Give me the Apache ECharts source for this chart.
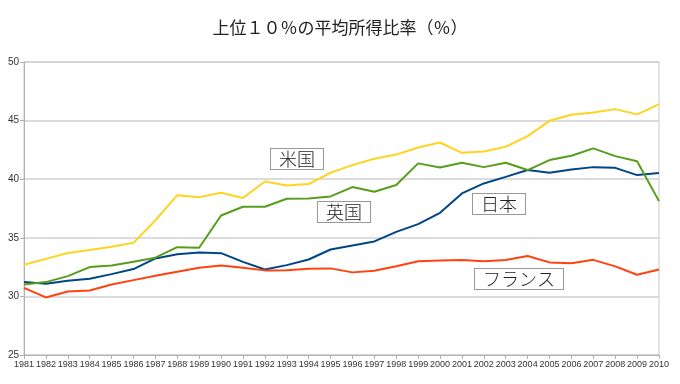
<!DOCTYPE html>
<html><head><meta charset="utf-8">
<script src="https://cdn.jsdelivr.net/npm/echarts@6/dist/echarts.min.js"></script>
<style>html,body{margin:0;padding:0;background:#fff}#c{width:680px;height:384px}</style>
</head><body><div id="c"></div>
<script>
const years = ['1981','1982','1983','1984','1985','1986','1987','1988','1989','1990','1991','1992','1993','1994','1995','1996','1997','1998','1999','2000','2001','2002','2003','2004','2005','2006','2007','2008','2009','2010'];
const usa = [32.7,33.2,33.7,33.95,34.23,34.57,36.5,38.64,38.47,38.84,38.39,39.81,39.47,39.58,40.55,41.2,41.74,42.1,42.71,43.13,42.25,42.37,42.77,43.68,44.98,45.5,45.7,45.98,45.53,46.38];
const uk = [31.02,31.22,31.73,32.5,32.64,32.95,33.3,34.2,34.15,36.9,37.65,37.65,38.33,38.36,38.53,39.33,38.93,39.5,41.35,41.0,41.4,41.03,41.4,40.78,41.63,42.0,42.63,41.97,41.54,38.13];
const japan = [31.22,31.08,31.33,31.5,31.9,32.33,33.24,33.6,33.75,33.69,32.95,32.3,32.67,33.15,34.0,34.35,34.69,35.51,36.17,37.13,38.79,39.64,40.2,40.78,40.55,40.83,41.03,40.97,40.35,40.52];
const france = [30.73,29.91,30.42,30.51,31.02,31.39,31.76,32.1,32.44,32.64,32.44,32.22,32.24,32.36,32.39,32.05,32.18,32.58,33.0,33.07,33.1,33.0,33.1,33.44,32.9,32.82,33.12,32.56,31.85,32.3];
const seriesNames = ['日本','フランス','米国','英国'];
const titleText = '上位１０％の平均所得比率（％）';

const chart = echarts.init(document.getElementById('c'), null, {renderer:'canvas'});
const mk = (name, data, color) => ({
  name, type:'line', data, symbol:'none', smooth:false,
  lineStyle:{color, width:2}, itemStyle:{color}, z: 3
});
const label = (text, x, y) => ({
  type:'text', left:x, top:y, z:10,
  style:{text, font:'300 18px "Noto Sans CJK JP"', fill:'#222',
    backgroundColor:'#fff', borderColor:'#999', borderWidth:1,
    padding:[1,8,1,8]}
});
chart.setOption({
  animation:false,
  title:{text:titleText, left:'center', top:14,
    textStyle:{fontSize:17, fontWeight:'normal', color:'#222', fontFamily:'"Noto Sans CJK JP"'}},
  grid:{left:24, right:21, top:62, bottom:29, show:true, borderColor:'#c8c8c8', borderWidth:1},
  xAxis:{type:'category', data:years, boundaryGap:false,
    axisLine:{lineStyle:{color:'#b0b0b0'}},
    axisTick:{show:true, length:4, lineStyle:{color:'#b0b0b0'}},
    axisLabel:{interval:0, fontSize:9, color:'#333', margin:5, fontFamily:'"Liberation Sans Narrow","Liberation Sans",sans-serif'},
    splitLine:{show:false}},
  yAxis:{type:'value', min:25, max:50, interval:5,
    axisLine:{show:true, lineStyle:{color:'#b0b0b0'}},
    axisTick:{show:true, length:4, lineStyle:{color:'#b0b0b0'}},
    axisLabel:{fontSize:10, color:'#333', margin:5, fontFamily:'"Liberation Sans",sans-serif'},
    splitLine:{lineStyle:{color:'#d0d0d0', width:1.5}}},
  series:[mk(seriesNames[0], japan, '#004586'), mk(seriesNames[1], france, '#ff420e'), mk(seriesNames[2], usa, '#ffd320'), mk(seriesNames[3], uk, '#579d1c')],
  graphic:[label('米国',270,148), label('英国',317,201), label('日本',472,193), label('フランス',474,268)]
});
</script></body></html>
